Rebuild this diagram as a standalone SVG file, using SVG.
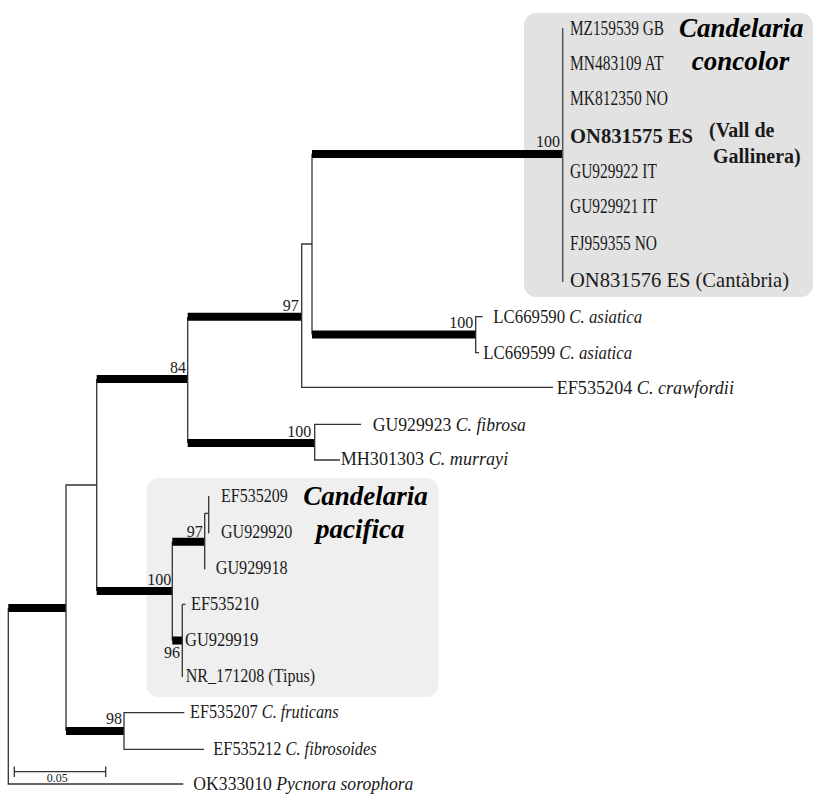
<svg xmlns="http://www.w3.org/2000/svg" width="818" height="794" viewBox="0 0 818 794">
<style>
.t{font-family:"Liberation Serif","Times New Roman",serif;font-size:18.5px;fill:#1a1a1a}
.tc{font-size:21px}
.b{font-weight:bold}
.i{font-style:italic}
.bs{font-family:"Liberation Serif","Times New Roman",serif;font-size:16px;fill:#1a1a1a}
.cl{font-family:"Liberation Serif","Times New Roman",serif;font-size:27px;font-weight:bold;font-style:italic;fill:#000}
.thin{stroke:#333;stroke-width:1.3;fill:none}
.thick{stroke:#000;stroke-width:8;fill:none}
</style>
<rect width="818" height="794" fill="#fff"/>
<g id="box-concolor"><rect x="524" y="13" width="289" height="284" rx="12" fill="#e2e2e2"/></g>
<g id="box-pacifica"><rect x="146.5" y="478" width="292" height="219" rx="12" fill="#efefef"/></g>

<g id="connectors">
  <path class="thin" d="M8.3,608V784H183.3"/>
  <path class="thick" d="M8.3,608H66"/>
  <path class="thin" d="M66,608V485H96.7M66,608V731"/>
  <path class="thick" d="M66,731H124"/>
  <path class="thin" d="M96.7,379V591"/>
  <path class="thick" d="M96.7,379H187.7M96.7,591H172.3"/>
  <path class="thin" d="M187.7,316.7V443"/>
  <path class="thick" d="M187.7,316.7H301.7M187.7,443H314.7"/>
  <path class="thin" d="M301.7,316.7V244H312M301.7,316.7V387.3H553"/>
  <path class="thin" d="M312,154V334.5"/>
  <path class="thick" d="M312,154H562.7M312,334.5H475.7"/>
  <path d="M562.7,28V282" stroke="#555" stroke-width="1.5" fill="none"/>
  <path class="thin" d="M482.7,316.7H475.7V352.7H479"/>
  <path class="thin" d="M361,424.3H314.7V460H340"/>
  <path class="thin" d="M172.3,541.7V640.5"/>
  <path class="thick" d="M172.3,541.7H204.7"/>
  <path d="M172.3,640.5H182.3" stroke="#000" stroke-width="8" fill="none"/>
  <path class="thin" d="M204.7,513.3V569.3M204.7,513.3H208.7M208.7,496V533.3"/>
  <path class="thin" d="M182.3,604.3V677M182.3,604.3H185.5"/>
  <path class="thin" d="M184.3,712.7H124V749.3H204"/>
  <path class="thin" d="M14.3,771.7H105.7M14.3,766.5V777M105.7,766.5V777"/>
</g>

<g id="support">
  <text class="bs" x="536" y="147">100</text>
  <text class="bs" x="449.3" y="327.7">100</text>
  <text class="bs" x="282.7" y="310.7">97</text>
  <text class="bs" x="170" y="373.3">84</text>
  <text class="bs" x="287.3" y="436.7">100</text>
  <text class="bs" x="147.3" y="585">100</text>
  <text class="bs" x="186.7" y="536.7">97</text>
  <text class="bs" x="164" y="657.7">96</text>
  <text class="bs" x="106" y="724">98</text>
</g>

<g id="n-MZ159539"><text class="t tc" transform="translate(570 35) scale(.729 1)">MZ159539 GB</text></g>
<g id="n-MN483109"><text class="t tc" transform="translate(570 70) scale(.738 1)">MN483109 AT</text></g>
<g id="n-MK812350"><text class="t tc" transform="translate(570 105) scale(.74 1)">MK812350 NO</text></g>
<g id="n-ON831575"><text class="t tc b" transform="translate(570 142.7) scale(.981 1)">ON831575 ES</text></g>
<g id="n-GU929922"><text class="t tc" transform="translate(570 178) scale(.735 1)">GU929922 IT</text></g>
<g id="n-GU929921"><text class="t tc" transform="translate(570 213) scale(.735 1)">GU929921 IT</text></g>
<g id="n-FJ959355"><text class="t tc" transform="translate(570 250) scale(.735 1)">FJ959355 NO</text></g>
<g id="n-ON831576"><text class="t tc" transform="translate(570 286.7) scale(.978 1)">ON831576 ES (Cantàbria)</text></g>
<g id="lbl-concolor">
  <text class="cl" x="679" y="36.7">Candelaria</text>
  <text class="cl" x="691.7" y="70">concolor</text>
  <text class="t b" x="709" y="137" style="font-size:20px">(Vall de</text>
  <text class="t b" x="713" y="163" style="font-size:20px">Gallinera)</text>
</g>

<g id="n-LC669590"><text class="t" transform="translate(493.3 323.3) scale(.909 1)">LC669590 <tspan class="i">C. asiatica</tspan></text></g>
<g id="n-LC669599"><text class="t" transform="translate(483.3 359) scale(.909 1)">LC669599 <tspan class="i">C. asiatica</tspan></text></g>
<g id="n-EF535204"><text class="t" transform="translate(556.7 394) scale(.9815 1)">EF535204 <tspan class="i">C. crawfordii</tspan></text></g>
<g id="n-GU929923"><text class="t" transform="translate(372.7 430.7) scale(.957 1)">GU929923 <tspan class="i">C. fibrosa</tspan></text></g>
<g id="n-MH301303"><text class="t" transform="translate(340.7 465) scale(.979 1)">MH301303 <tspan class="i">C. murrayi</tspan></text></g>

<g id="n-EF535209"><text class="t" transform="translate(221 502.3) scale(.865 1)">EF535209</text></g>
<g id="n-GU929920"><text class="t" transform="translate(221 538.3) scale(.867 1)">GU929920</text></g>
<g id="n-GU929918"><text class="t" transform="translate(215.7 574.3) scale(.876 1)">GU929918</text></g>
<g id="n-EF535210"><text class="t" transform="translate(191 610) scale(.882 1)">EF535210</text></g>
<g id="n-GU929919"><text class="t" transform="translate(185 646) scale(.892 1)">GU929919</text></g>
<g id="n-NR_171208"><text class="t" transform="translate(185.7 681.7) scale(.87 1)">NR_171208 (Tipus)</text></g>
<g id="lbl-pacifica">
  <text class="cl" x="303.3" y="505">Candelaria</text>
  <text class="cl" x="316" y="538.3">pacifica</text>
</g>

<g id="n-EF535207"><text class="t" transform="translate(190 718.3) scale(.879 1)">EF535207 <tspan class="i">C. fruticans</tspan></text></g>
<g id="n-EF535212"><text class="t" transform="translate(213.3 755) scale(.884 1)">EF535212 <tspan class="i">C. fibrosoides</tspan></text></g>
<g id="n-OK333010"><text class="t" transform="translate(193.3 790) scale(.9555 1)">OK333010 <tspan class="i">Pycnora sorophora</tspan></text></g>
<g id="scale"><text class="t" x="46.7" y="781.7" style="font-size:12px">0.05</text></g>
</svg>
